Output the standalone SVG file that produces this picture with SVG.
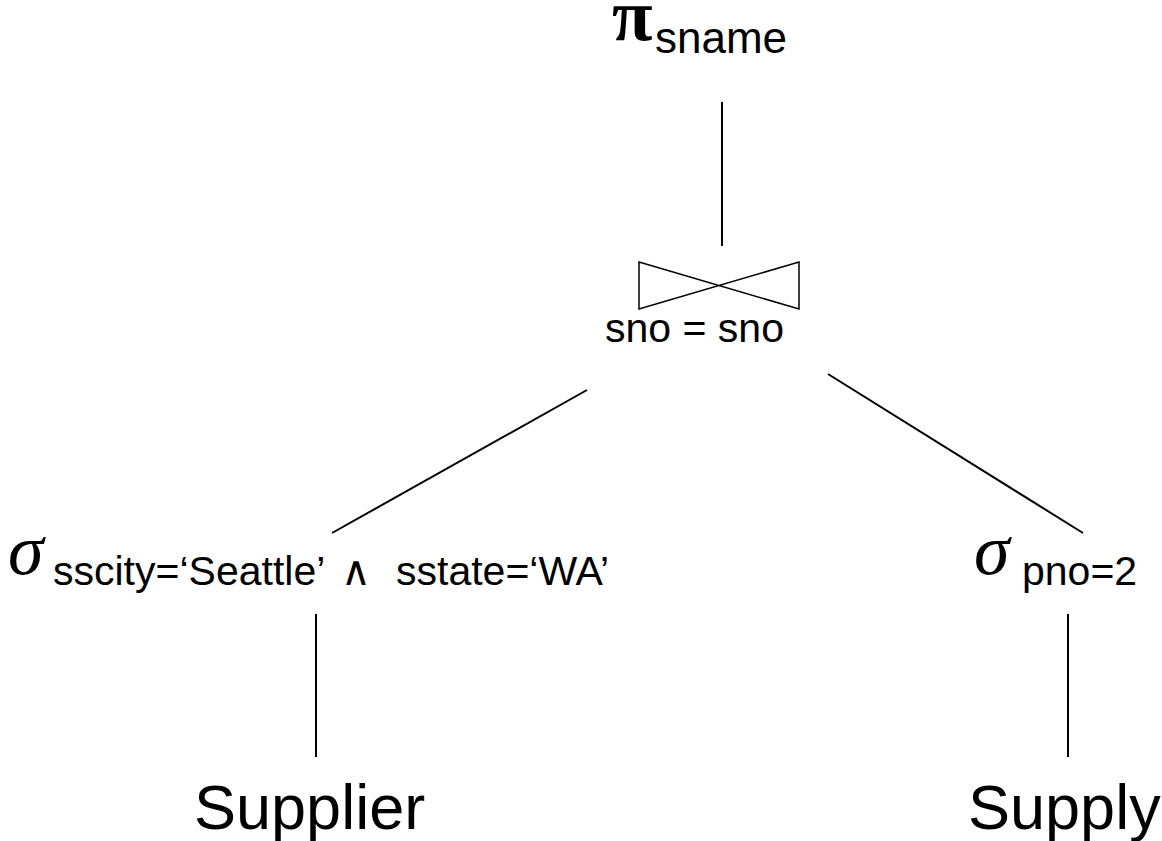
<svg xmlns="http://www.w3.org/2000/svg" width="1162" height="841" viewBox="0 0 1162 841">
<style>
.ln{stroke:#000;stroke-width:2;fill:none}
.t{font-family:"Liberation Sans",Arial,sans-serif;fill:#000}
.g{font-family:"Liberation Serif","Times New Roman",serif;fill:#000}
</style>
<rect width="1162" height="841" fill="#fff"/>
<g id="connectors">
<line class="ln" x1="722" y1="102" x2="722" y2="246"/>
<line class="ln" x1="587" y1="390" x2="332" y2="533"/>
<line class="ln" x1="828" y1="374" x2="1083" y2="533"/>
<line class="ln" x1="316" y1="614" x2="316" y2="757"/>
<line class="ln" x1="1068" y1="614" x2="1068" y2="757"/>
</g>
<g id="project">
<text class="g" x="612" y="40" font-size="74" font-weight="bold">π</text>
<text class="t" x="655" y="53" font-size="44">sname</text>
</g>
<g id="join">
<polygon points="639,262 799,309 799,262 639,309" fill="none" stroke="#000" stroke-width="1.5"/>
<text class="t" x="605" y="342" font-size="41">sno = sno</text>
</g>
<g id="select-left">
<text class="g" x="8" y="574" font-size="72" font-style="italic">σ</text>
<text class="t" y="585" font-size="41"><tspan x="53">sscity=‘Seattle’</tspan><tspan x="341">∧</tspan><tspan x="396">sstate=‘WA’</tspan></text>
</g>
<g id="select-right">
<text class="g" x="974" y="574" font-size="72" font-style="italic">σ</text>
<text class="t" x="1022" y="585" font-size="41">pno=2</text>
</g>
<g id="supplier">
<text class="t" x="194" y="829" font-size="63">Supplier</text>
</g>
<g id="supply">
<text class="t" x="968" y="829" font-size="63">Supply</text>
</g>
</svg>
